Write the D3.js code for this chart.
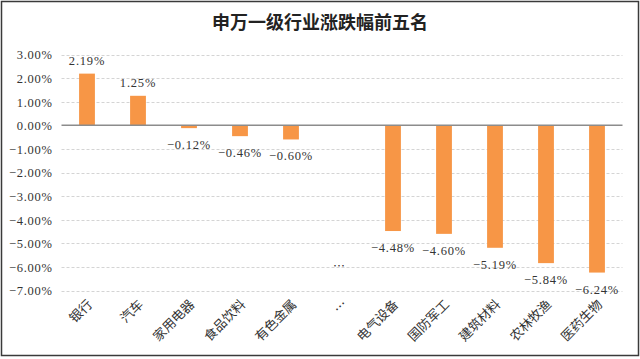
<!DOCTYPE html>
<html><head><meta charset="utf-8">
<script src="https://cdn.jsdelivr.net/npm/d3@7/dist/d3.min.js"></script>
<style>
html,body{margin:0;padding:0;background:#fff;}
svg{display:block;}
</style></head>
<body>
<svg id="chart" width="640" height="359"></svg>
<script>
const title = "申万一级行业涨跌幅前五名";
const categories = ["银行","汽车","家用电器","食品饮料","有色金属","…","电气设备","国防军工","建筑材料","农林牧渔","医药生物"];
const values = [2.19, 1.25, -0.12, -0.46, -0.60, null, -4.48, -4.60, -5.19, -5.84, -6.24];
const yTicks = [3,2,1,0,-1,-2,-3,-4,-5,-6,-7];
const gapLabel = {category: "…", text: "…", at: -6.0};

const svg = d3.select("#chart");
const W = 640, H = 359;
const m = {left: 61.5, right: 17.5, top: 54.5, bottom: 69};
const serif = "'Liberation Serif','DejaVu Serif','Noto Sans CJK SC',serif";
const cjk = "'Noto Sans CJK SC',sans-serif";

svg.append("rect").attr("x",1.5).attr("y",1.5).attr("width",W-3).attr("height",H-5)
  .attr("fill","#fff").attr("stroke","#3a3a3a").attr("stroke-width",1.5);

svg.append("text").attr("x",320).attr("y",29).attr("text-anchor","middle")
  .attr("font-family",cjk).attr("font-weight","bold").attr("font-size",18)
  .attr("fill","#222").text(title);

const x = d3.scaleBand().domain(categories).range([m.left, W - m.right]).paddingInner(0.69).paddingOuter(0.345);
const y = d3.scaleLinear().domain([-7, 3]).range([290.5, 54.5]);

// grid
svg.append("g").selectAll("line").data(yTicks.filter(d => d !== 0)).join("line")
  .attr("x1", m.left).attr("x2", W - m.right)
  .attr("y1", d => Math.round(y(d)) + 0.5).attr("y2", d => Math.round(y(d)) + 0.5)
  .attr("stroke","#d4d4d4").attr("stroke-dasharray","3,2").attr("stroke-width",1);

// y axis labels
const yAxis = d3.axisLeft(y).tickValues(yTicks).tickSize(0).tickPadding(9)
  .tickFormat(d => d3.format(".2f")(d) + "%");
const ga = svg.append("g").attr("transform", `translate(${m.left},0)`).call(yAxis);
ga.select(".domain").remove();
ga.selectAll("text").attr("font-family",serif).attr("font-size",12.5).attr("fill","#333")
  .attr("letter-spacing","0.7px").attr("dy","0.35em");

// bars
const data = categories.map((c,i) => ({c, v: values[i]})).filter(d => d.v !== null);
svg.append("g").selectAll("rect").data(data).join("rect")
  .attr("x", d => x(d.c)).attr("width", x.bandwidth())
  .attr("y", d => y(Math.max(0, d.v))).attr("height", d => Math.abs(y(d.v) - y(0)))
  .attr("fill","#f79646");

// zero line
svg.append("line").attr("x1", m.left).attr("x2", W - m.right)
  .attr("y1", y(0)).attr("y2", y(0)).attr("stroke","#8c8c8c").attr("stroke-width",1.5);

// data labels
svg.append("g").selectAll("text").data(data).join("text")
  .attr("x", d => x(d.c) + x.bandwidth()/2)
  .attr("y", d => d.v >= 0 ? y(d.v) - 9 : y(d.v) + 21)
  .attr("text-anchor","middle").attr("font-family",serif).attr("font-size",12.5)
  .attr("letter-spacing","0.8px").attr("fill","#333")
  .text(d => d3.format(".2f")(d.v) + "%");

svg.append("text").attr("x", x(gapLabel.category) + x.bandwidth()/2 - 3).attr("y", y(gapLabel.at) + 4)
  .attr("text-anchor","middle").attr("font-family",cjk).attr("font-size",12).attr("fill","#333")
  .text(gapLabel.text);

// x labels
const xAxis = d3.axisBottom(x).tickSize(0).tickPadding(0);
const gx = svg.append("g").attr("transform","translate(0,302)").call(xAxis);
gx.select(".domain").remove();
gx.selectAll("text").attr("font-family",cjk).attr("font-size",13).attr("fill","#333")
  .attr("text-anchor","end").attr("dy","0.35em")
  .attr("transform","translate(3,0) rotate(-45)");
</script>
</body></html>
